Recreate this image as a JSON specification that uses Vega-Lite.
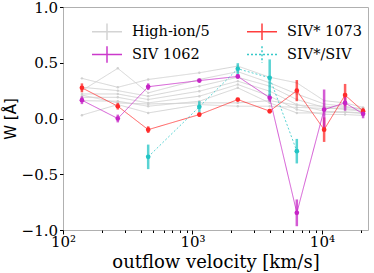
{
  "$schema": "https://vega.github.io/schema/vega-lite/v6.json",
  "width": 305,
  "height": 223,
  "autosize": {"type": "none"},
  "padding": {"left": 63, "top": 7, "right": 6, "bottom": 43},
  "background": "white",
  "config": {
    "view": {"stroke": "#b0b0b0", "strokeWidth": 1},
    "axis": {"labelFont": "DejaVu Serif", "labelColor": "black", "titleFont": "DejaVu Serif", "titleFontWeight": "normal", "titleColor": "black", "tickColor": "black", "domain": false, "grid": false},
    "legend": {"labelFont": "DejaVu Serif"}
  },
  "data": {"values": [
    {"s": "High-ion/5", "g": "g1", "v": 140, "w": 0.36}, {"s": "High-ion/5", "g": "g1", "v": 265, "w": 0.28}, {"s": "High-ion/5", "g": "g1", "v": 455, "w": 0.35}, {"s": "High-ion/5", "g": "g1", "v": 1130, "w": 0.41}, {"s": "High-ion/5", "g": "g1", "v": 2240, "w": 0.47}, {"s": "High-ion/5", "g": "g1", "v": 3950, "w": 0.37}, {"s": "High-ion/5", "g": "g1", "v": 6400, "w": 0.32}, {"s": "High-ion/5", "g": "g1", "v": 10400, "w": 0.16}, {"s": "High-ion/5", "g": "g1", "v": 15100, "w": 0.14}, {"s": "High-ion/5", "g": "g1", "v": 20800, "w": 0.10},
    {"s": "High-ion/5", "g": "g2", "v": 140, "w": 0.25}, {"s": "High-ion/5", "g": "g2", "v": 265, "w": 0.45}, {"s": "High-ion/5", "g": "g2", "v": 455, "w": 0.23}, {"s": "High-ion/5", "g": "g2", "v": 1130, "w": 0.35}, {"s": "High-ion/5", "g": "g2", "v": 2240, "w": 0.42}, {"s": "High-ion/5", "g": "g2", "v": 3950, "w": 0.32}, {"s": "High-ion/5", "g": "g2", "v": 6400, "w": 0.22}, {"s": "High-ion/5", "g": "g2", "v": 10400, "w": 0.13}, {"s": "High-ion/5", "g": "g2", "v": 15100, "w": 0.11}, {"s": "High-ion/5", "g": "g2", "v": 20800, "w": 0.08},
    {"s": "High-ion/5", "g": "g3", "v": 140, "w": 0.28}, {"s": "High-ion/5", "g": "g3", "v": 265, "w": 0.25}, {"s": "High-ion/5", "g": "g3", "v": 455, "w": 0.20}, {"s": "High-ion/5", "g": "g3", "v": 1130, "w": 0.29}, {"s": "High-ion/5", "g": "g3", "v": 2240, "w": 0.37}, {"s": "High-ion/5", "g": "g3", "v": 3950, "w": 0.29}, {"s": "High-ion/5", "g": "g3", "v": 6400, "w": 0.17}, {"s": "High-ion/5", "g": "g3", "v": 10400, "w": 0.10}, {"s": "High-ion/5", "g": "g3", "v": 15100, "w": 0.08}, {"s": "High-ion/5", "g": "g3", "v": 20800, "w": 0.065},
    {"s": "High-ion/5", "g": "g4", "v": 140, "w": 0.22}, {"s": "High-ion/5", "g": "g4", "v": 265, "w": 0.22}, {"s": "High-ion/5", "g": "g4", "v": 455, "w": 0.17}, {"s": "High-ion/5", "g": "g4", "v": 1130, "w": 0.245}, {"s": "High-ion/5", "g": "g4", "v": 2240, "w": 0.335}, {"s": "High-ion/5", "g": "g4", "v": 3950, "w": 0.245}, {"s": "High-ion/5", "g": "g4", "v": 6400, "w": 0.125}, {"s": "High-ion/5", "g": "g4", "v": 10400, "w": 0.065}, {"s": "High-ion/5", "g": "g4", "v": 15100, "w": 0.056}, {"s": "High-ion/5", "g": "g4", "v": 20800, "w": 0.045},
    {"s": "High-ion/5", "g": "g5", "v": 140, "w": 0.19}, {"s": "High-ion/5", "g": "g5", "v": 265, "w": 0.19}, {"s": "High-ion/5", "g": "g5", "v": 455, "w": 0.14}, {"s": "High-ion/5", "g": "g5", "v": 1130, "w": 0.20}, {"s": "High-ion/5", "g": "g5", "v": 2240, "w": 0.305}, {"s": "High-ion/5", "g": "g5", "v": 3950, "w": 0.20}, {"s": "High-ion/5", "g": "g5", "v": 6400, "w": 0.08}, {"s": "High-ion/5", "g": "g5", "v": 10400, "w": 0.036}, {"s": "High-ion/5", "g": "g5", "v": 15100, "w": 0.036}, {"s": "High-ion/5", "g": "g5", "v": 20800, "w": 0.027},
    {"s": "High-ion/5", "g": "g6", "v": 140, "w": 0.16}, {"s": "High-ion/5", "g": "g6", "v": 265, "w": 0.155}, {"s": "High-ion/5", "g": "g6", "v": 455, "w": 0.11}, {"s": "High-ion/5", "g": "g6", "v": 1130, "w": 0.155}, {"s": "High-ion/5", "g": "g6", "v": 2240, "w": 0.275}, {"s": "High-ion/5", "g": "g6", "v": 3950, "w": 0.14}, {"s": "High-ion/5", "g": "g6", "v": 6400, "w": 0.05}, {"s": "High-ion/5", "g": "g6", "v": 10400, "w": 0.05}, {"s": "High-ion/5", "g": "g6", "v": 15100, "w": 0.06}, {"s": "High-ion/5", "g": "g6", "v": 20800, "w": 0.05},
    {"s": "High-ion/5", "g": "g7", "v": 140, "w": 0.03}, {"s": "High-ion/5", "g": "g7", "v": 265, "w": 0.125}, {"s": "High-ion/5", "g": "g7", "v": 455, "w": 0.05}, {"s": "High-ion/5", "g": "g7", "v": 1130, "w": 0.125}, {"s": "High-ion/5", "g": "g7", "v": 2240, "w": 0.11}, {"s": "High-ion/5", "g": "g7", "v": 3950, "w": 0.11}, {"s": "High-ion/5", "g": "g7", "v": 6400, "w": 0.10}, {"s": "High-ion/5", "g": "g7", "v": 10400, "w": 0.09}, {"s": "High-ion/5", "g": "g7", "v": 15100, "w": 0.09}, {"s": "High-ion/5", "g": "g7", "v": 20800, "w": 0.07},
    {"s": "High-ion/5", "g": "g8", "v": 140, "w": 0.21}, {"s": "High-ion/5", "g": "g8", "v": 265, "w": 0.14}, {"s": "High-ion/5", "g": "g8", "v": 455, "w": 0.13}, {"s": "High-ion/5", "g": "g8", "v": 1130, "w": 0.14}, {"s": "High-ion/5", "g": "g8", "v": 2240, "w": 0.14}, {"s": "High-ion/5", "g": "g8", "v": 3950, "w": 0.16}, {"s": "High-ion/5", "g": "g8", "v": 6400, "w": 0.12}, {"s": "High-ion/5", "g": "g8", "v": 10400, "w": 0.11}, {"s": "High-ion/5", "g": "g8", "v": 15100, "w": 0.10}, {"s": "High-ion/5", "g": "g8", "v": 20800, "w": 0.09},
    {"s": "SIV* 1073", "g": "r", "v": 140, "w": 0.275, "lo": 0.235, "hi": 0.315},
    {"s": "SIV* 1073", "g": "r", "v": 265, "w": 0.11, "lo": 0.08, "hi": 0.14},
    {"s": "SIV* 1073", "g": "r", "v": 455, "w": -0.10, "lo": -0.13, "hi": -0.07},
    {"s": "SIV* 1073", "g": "r", "v": 1130, "w": 0.035, "lo": 0.015, "hi": 0.055},
    {"s": "SIV* 1073", "g": "r", "v": 2240, "w": 0.17, "lo": 0.155, "hi": 0.185},
    {"s": "SIV* 1073", "g": "r", "v": 3950, "w": 0.066, "lo": 0.046, "hi": 0.086},
    {"s": "SIV* 1073", "g": "r", "v": 6400, "w": 0.25, "lo": 0.155, "hi": 0.345},
    {"s": "SIV* 1073", "g": "r", "v": 10400, "w": -0.10, "lo": -0.21, "hi": 0.01},
    {"s": "SIV* 1073", "g": "r", "v": 15100, "w": 0.21, "lo": 0.11, "hi": 0.31},
    {"s": "SIV* 1073", "g": "r", "v": 20800, "w": 0.066, "lo": 0.036, "hi": 0.096},
    {"s": "SIV 1062", "g": "m", "v": 140, "w": 0.164, "lo": 0.129, "hi": 0.199},
    {"s": "SIV 1062", "g": "m", "v": 265, "w": 0.0, "lo": -0.035, "hi": 0.035},
    {"s": "SIV 1062", "g": "m", "v": 455, "w": 0.285, "lo": 0.255, "hi": 0.315},
    {"s": "SIV 1062", "g": "m", "v": 1130, "w": 0.34, "lo": 0.325, "hi": 0.355},
    {"s": "SIV 1062", "g": "m", "v": 2240, "w": 0.377, "lo": 0.357, "hi": 0.397},
    {"s": "SIV 1062", "g": "m", "v": 3950, "w": 0.186, "lo": 0.151, "hi": 0.221},
    {"s": "SIV 1062", "g": "m", "v": 6400, "w": -0.846, "lo": -0.966, "hi": -0.726},
    {"s": "SIV 1062", "g": "m", "v": 10400, "w": 0.08, "lo": -0.10, "hi": 0.26},
    {"s": "SIV 1062", "g": "m", "v": 15100, "w": 0.14, "lo": 0.07, "hi": 0.21},
    {"s": "SIV 1062", "g": "m", "v": 20800, "w": 0.042, "lo": 0.002, "hi": 0.082},
    {"s": "SIV*/SIV", "g": "c", "v": 455, "w": -0.344, "lo": -0.454, "hi": -0.234},
    {"s": "SIV*/SIV", "g": "c", "v": 1130, "w": 0.105, "lo": 0.055, "hi": 0.155},
    {"s": "SIV*/SIV", "g": "c", "v": 2240, "w": 0.446, "lo": 0.396, "hi": 0.496},
    {"s": "SIV*/SIV", "g": "c", "v": 3950, "w": 0.365, "lo": 0.20, "hi": 0.53},
    {"s": "SIV*/SIV", "g": "c", "v": 6400, "w": -0.293, "lo": -0.403, "hi": -0.183}
  ]},
  "encoding": {
    "x": {"field": "v", "type": "quantitative", "scale": {"type": "log", "domain": [100, 22700], "nice": false},
      "axis": {"title": "outflow velocity [km/s]", "titleFont": "DejaVu Serif", "titleFontSize": 18, "titlePadding": 4, "labelPadding": 0,
        "labelFont": "DejaVu Serif", "labelFontSize": 15,
        "values": [100, 200, 300, 400, 500, 600, 700, 800, 900, 1000, 2000, 3000, 4000, 5000, 6000, 7000, 8000, 9000, 10000, 20000],
        "labelExpr": "datum.value == 100 ? '10²' : datum.value == 1000 ? '10³' : datum.value == 10000 ? '10⁴' : ''",
        "tickSize": {"condition": {"test": "datum.value == 100 || datum.value == 1000 || datum.value == 10000", "value": 4}, "value": 2.5},
        "labelFlush": false, "labelOverlap": false}},
    "y": {"field": "w", "type": "quantitative", "scale": {"domain": [-1, 1], "nice": false},
      "axis": {"title": "W [Å]", "titleFont": "DejaVu Sans", "titleFontSize": 15, "titlePadding": 3, "tickSize": 3.5, "labelPadding": 2,
        "labelFont": "DejaVu Serif", "labelFontSize": 15,
        "values": [-1, -0.5, 0, 0.5, 1], "labelExpr": "replace(format(datum.value, '.1f'), '-', '−')"}}
  },
  "layer": [
    {
      "transform": [{"filter": "datum.s == 'High-ion/5'"}],
      "mark": {"type": "line", "strokeWidth": 1, "opacity": 0.9, "point": {"filled": true, "size": 6, "color": "#cfcfcf"}},
      "encoding": {
        "detail": {"field": "g"},
        "color": {"field": "s", "type": "nominal",
          "scale": {"domain": ["High-ion/5", "SIV 1062", "SIV* 1073", "SIV*/SIV"], "range": ["#d0d0d0", "#c624c6", "#ff2a2a", "#22c4c4"]},
          "legend": {"orient": "none", "legendX": 28, "legendY": 16, "columns": 2, "title": null, "padding": 0,
            "values": ["High-ion/5", "SIV 1062", "SIV* 1073", "SIV*/SIV"],
            "symbolType": "M-1,0L3,0M1,-1.1L1,1.1", "symbolSize": 225, "symbolStrokeWidth": 1.5,
            "labelFont": "DejaVu Serif", "labelFontSize": 14.5, "labelColor": "black", "labelOffset": 24,
            "columnPadding": 34, "rowPadding": 0}},
        "strokeDash": {"field": "s", "type": "nominal",
          "scale": {"domain": ["High-ion/5", "SIV 1062", "SIV* 1073", "SIV*/SIV"], "range": [[1, 0], [1, 0], [1, 0], [2, 2]]},
          "legend": {"orient": "none", "legendX": 28, "legendY": 16, "columns": 2, "title": null, "padding": 0,
            "values": ["High-ion/5", "SIV 1062", "SIV* 1073", "SIV*/SIV"],
            "symbolType": "M-1,0L3,0M1,-1.1L1,1.1", "symbolSize": 225, "symbolStrokeWidth": 1.5,
            "labelFont": "DejaVu Serif", "labelFontSize": 14.5, "labelColor": "black", "labelOffset": 24,
            "columnPadding": 34, "rowPadding": 0}}
      }
    },
    {
      "transform": [{"filter": "datum.s != 'High-ion/5'"}],
      "mark": {"type": "rule", "strokeWidth": 2.5, "opacity": 0.75},
      "encoding": {
        "y": {"field": "lo", "type": "quantitative"},
        "y2": {"field": "hi"},
        "color": {"field": "s", "type": "nominal"}
      }
    },
    {
      "transform": [{"filter": "datum.s != 'High-ion/5'"}],
      "mark": {"type": "line", "strokeWidth": 1, "opacity": 0.75},
      "encoding": {
        "detail": {"field": "g"},
        "color": {"field": "s", "type": "nominal"},
        "strokeDash": {"field": "s", "type": "nominal"}
      }
    },
    {
      "transform": [{"filter": "datum.s != 'High-ion/5'"}],
      "mark": {"type": "circle", "size": 22, "opacity": 1},
      "encoding": {
        "color": {"field": "s", "type": "nominal"}
      }
    },
    {
      "data": {"values": [{"z": 0}]},
      "mark": {"type": "rule", "color": "black", "strokeWidth": 1.2, "strokeDash": [4, 3]},
      "encoding": {"y": {"field": "z", "type": "quantitative"}}
    }
  ]
}
